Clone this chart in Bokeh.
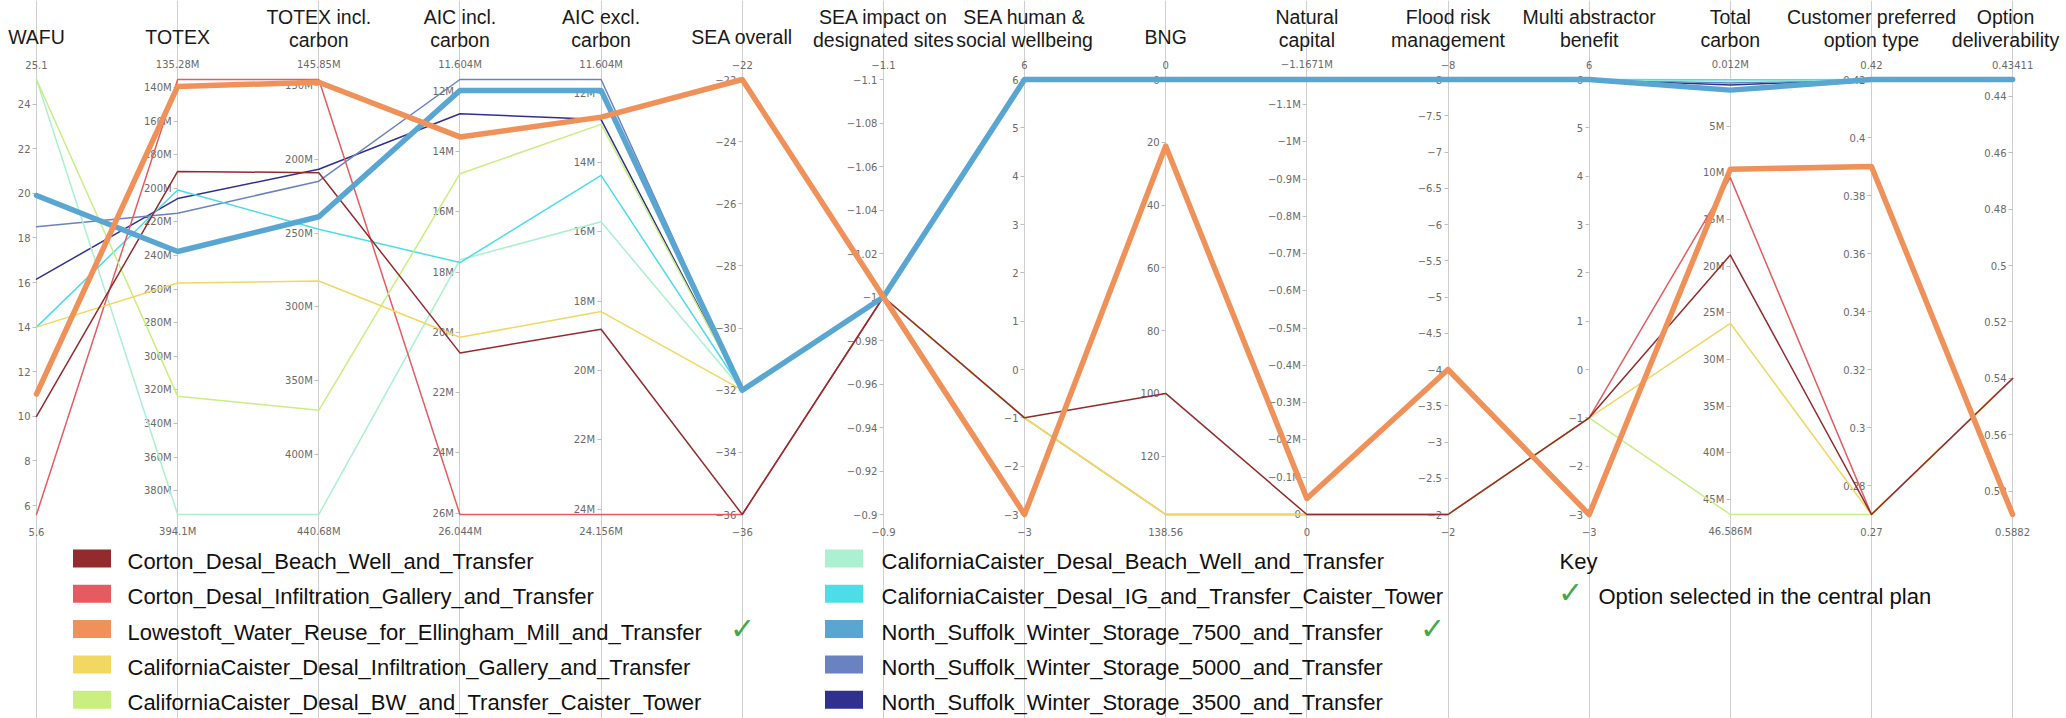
from bokeh.plotting import figure
from bokeh.models import Range1d, LinearAxis, FixedTicker
from bokeh.core.properties import value
from bokeh.embed import file_html
from bokeh.resources import INLINE

# ---------------------------------------------------------------- data
axis_titles = [
    ["WAFU"], ["TOTEX"], ["TOTEX incl.", "carbon"], ["AIC incl.", "carbon"],
    ["AIC excl.", "carbon"], ["SEA overall"], ["SEA impact on", "designated sites"],
    ["SEA human &", "social wellbeing"], ["BNG"], ["Natural", "capital"],
    ["Flood risk", "management"], ["Multi abstractor", "benefit"], ["Total", "carbon"],
    ["Customer preferred", "option type"], ["Option", "deliverability"],
]
# value at the top and at the bottom of every axis (M = millions)
axis_top = [25.1, 135.28, 145.85, 11.604, 11.604, -22, -1.1, 6, 0, -1.1671, -8, 6, 0.012, 0.42, 0.43411]
axis_bottom = [5.6, 394.1, 440.68, 26.044, 24.156, -36, -0.9, -3, 138.56, 0, -2, -3, 46.586, 0.27, 0.5882]
axis_unit = ["", "M", "M", "M", "M", "", "", "", "", "M", "", "", "M", "", ""]
axis_ticks = [
    [6, 8, 10, 12, 14, 16, 18, 20, 22, 24],
    [140, 160, 180, 200, 220, 240, 260, 280, 300, 320, 340, 360, 380],
    [150, 200, 250, 300, 350, 400],
    [12, 14, 16, 18, 20, 22, 24, 26],
    [12, 14, 16, 18, 20, 22, 24],
    [-36, -34, -32, -30, -28, -26, -24, -22],
    [-1.1, -1.08, -1.06, -1.04, -1.02, -1, -0.98, -0.96, -0.94, -0.92, -0.9],
    [-3, -2, -1, 0, 1, 2, 3, 4, 5, 6],
    [0, 20, 40, 60, 80, 100, 120],
    [-1.1, -1, -0.9, -0.8, -0.7, -0.6, -0.5, -0.4, -0.3, -0.2, -0.1, 0],
    [-8, -7.5, -7, -6.5, -6, -5.5, -5, -4.5, -4, -3.5, -3, -2.5, -2],
    [-3, -2, -1, 0, 1, 2, 3, 4, 5, 6],
    [5, 10, 15, 20, 25, 30, 35, 40, 45],
    [0.28, 0.3, 0.32, 0.34, 0.36, 0.38, 0.4, 0.42],
    [0.44, 0.46, 0.48, 0.5, 0.52, 0.54, 0.56, 0.58],
]

corton_bw = [10.0, 190.0, 209.0, 20.68, 18.81, -36, -1, -1, 100, 0, -2, -1, 18.81, 0.27, 0.54]
corton_ig = [5.6, 135.28, 145.85, 26.044, 24.156, -36, -1, -1, 138.56, 0, -2, -1, 10.52, 0.27, 0.54]
lowestoft = [11.0, 139.4, 147.7, 13.51, 12.69, -22, -1, -3, 21.2, -0.043, -4, -3, 9.63, 0.39, 0.5882]
cc_ig = [14.0, 256.4, 282.4, 20.16, 18.3, -32, -1, -1, 138.56, 0, -2, -1, 26.11, 0.27, 0.54]
cc_bw_tower = [25.1, 323.7, 370.1, 14.73, 12.9, -32, -1, -1, 138.56, 0, -2, -1, 46.586, 0.27, 0.54]
cc_beach_well = [25.1, 394.1, 440.68, 17.59, 15.71, -32, -1, 6, 0, -1.1671, -8, 6, 0.2, 0.42, 0.43411]
cc_ig_tower = [14.0, 201.0, 247.3, 17.68, 14.37, -32, -1, 6, 0, -1.1671, -8, 6, 0.05, 0.42, 0.43411]
ns_7500 = [19.9, 237.6, 238.9, 11.97, 11.92, -32, -1, 6, 0, -1.1671, -8, 6, 1.15, 0.42, 0.43411]
ns_5000 = [18.5, 214.8, 214.8, 11.604, 11.604, -32, -1, 6, 0, -1.1671, -8, 6, 0.4, 0.42, 0.43411]
ns_3500 = [16.15, 206.1, 206.7, 12.74, 12.76, -32, -1, 6, 0, -1.1671, -8, 6, 0.6, 0.42, 0.43411]

option_names = [
    "Corton_Desal_Beach_Well_and_Transfer",
    "Corton_Desal_Infiltration_Gallery_and_Transfer",
    "Lowestoft_Water_Reuse_for_Ellingham_Mill_and_Transfer",
    "CaliforniaCaister_Desal_Infiltration_Gallery_and_Transfer",
    "CaliforniaCaister_Desal_BW_and_Transfer_Caister_Tower",
    "CaliforniaCaister_Desal_Beach_Well_and_Transfer",
    "CaliforniaCaister_Desal_IG_and_Transfer_Caister_Tower",
    "North_Suffolk_Winter_Storage_7500_and_Transfer",
    "North_Suffolk_Winter_Storage_5000_and_Transfer",
    "North_Suffolk_Winter_Storage_3500_and_Transfer",
]
option_values = [corton_bw, corton_ig, lowestoft, cc_ig, cc_bw_tower,
                 cc_beach_well, cc_ig_tower, ns_7500, ns_5000, ns_3500]
option_colors = ["#922B2E", "#E55B5F", "#EF9159", "#F2D762", "#C9EF80",
                 "#AAF0D1", "#4CDDE8", "#59A6D2", "#6A82C1", "#30318F"]
selected = [False, False, True, False, False, False, False, True, False, False]

# ---------------------------------------------------------------- layout
W, H = 2066, 718
AX_X0, AX_DX = 36.0, 141.15
AX_TOP, AX_BOT = 79.0, 514.0

# main y range: 0 = bottom of the axes, 1 = top of the axes
Y_SPAN = H / (AX_BOT - AX_TOP)
Y_END = AX_BOT / (AX_BOT - AX_TOP)
Y_START = Y_END - Y_SPAN


def py(pix):
    """data y for a pixel row measured from the top of the page"""
    return Y_END - pix * Y_SPAN / H


def fmt(v, unit=""):
    if v == 0:
        return "0"
    s = ("%.5f" % v).rstrip("0").rstrip(".")
    return s.replace("-", "\u2212") + unit


n_axes = len(axis_titles)
ax_x = [AX_X0 + i * AX_DX for i in range(n_axes)]

p = figure(width=W, height=H, x_range=Range1d(0, W), y_range=Range1d(Y_START, Y_END),
           output_backend="svg", toolbar_location=None, min_border=0,
           x_axis_type=None, y_axis_type=None, outline_line_color=None,
           background_fill_color="white", border_fill_color="white")
p.grid.visible = False

# one scale per axis, lined up with the shared 0..1 band
for i in range(n_axes):
    top, bot = axis_top[i], axis_bottom[i]
    span = top - bot
    name = "ax%d" % i
    p.extra_y_ranges[name] = Range1d(start=bot + Y_START * span, end=bot + Y_END * span)
    ticks = axis_ticks[i]
    ax = LinearAxis(
        y_range_name=name, fixed_location=ax_x[i],
        ticker=FixedTicker(ticks=ticks),
        major_label_overrides={t: fmt(t, axis_unit[i]) for t in ticks},
        axis_line_color="#cfcfcf", axis_line_width=1,
        major_tick_line_color="#bdbdbd", major_tick_in=0, major_tick_out=4,
        minor_tick_line_color=None,
        major_label_text_font="DejaVu Sans", major_label_text_font_size="10px",
        major_label_text_color="#6a6a6a", major_label_standoff=2,
        level="underlay",
    )
    p.add_layout(ax, "left")

# lines: thin options first, selected options on top
draw_order = [9, 8, 5, 6, 1, 4, 3, 0, 7, 2]
for k in draw_order:
    vals = option_values[k]
    ys = [(v - axis_bottom[i]) / (axis_top[i] - axis_bottom[i]) for i, v in enumerate(vals)]
    p.line(ax_x, ys, line_color=option_colors[k],
           line_width=5.5 if selected[k] else 1.5,
           line_join="round", line_cap="round")

# axis titles
tx, ty, tt = [], [], []
for i, lines in enumerate(axis_titles):
    cx = min(ax_x[i], W - 61)
    rows = [36] if len(lines) == 1 else [16, 39]
    for line, r in zip(lines, rows):
        tx.append(cx); ty.append(py(r)); tt.append(line)
p.text(tx, ty, text=tt, text_font=value("Liberation Sans"), text_font_size=value("19.5px"),
       text_color="#1a1a1a", text_align="center", text_baseline="alphabetic")

# extreme values above and below every axis
p.text(ax_x, [py(64)] * n_axes, text=[fmt(v, u) for v, u in zip(axis_top, axis_unit)],
       text_font=value("DejaVu Sans"), text_font_size=value("10px"), text_color="#6a6a6a",
       text_align="center", text_baseline="middle")
p.text(ax_x, [py(531)] * n_axes, text=[fmt(v, u) for v, u in zip(axis_bottom, axis_unit)],
       text_font=value("DejaVu Sans"), text_font_size=value("10px"), text_color="#6a6a6a",
       text_align="center", text_baseline="middle")

# legend: two columns of five options
ROW0, ROW_DY = 558.0, 35.3
SW_W, SW_H = 38.0, 18.0
col_swatch = [91.5, 843.5]
col_text = [127.0, 881.0]
col_check = [742.0, 1432.0]
for k, name in enumerate(option_names):
    col, row = divmod(k, 5)
    cy = ROW0 + row * ROW_DY
    p.quad(left=[col_swatch[col] - SW_W / 2], right=[col_swatch[col] + SW_W / 2],
           top=[py(cy - SW_H / 2)], bottom=[py(cy + SW_H / 2)],
           fill_color=option_colors[k], line_color=None)
    p.text([col_text[col]], [py(cy + 3)], text=[name], text_font=value("Liberation Sans"),
           text_font_size=value("22px"), text_color="#111111",
           text_align="left", text_baseline="alphabetic")
    if selected[k]:
        p.text([col_check[col]], [py(cy - 1)], text=["\u2713"], text_font=value("DejaVu Sans"),
               text_font_size=value("30px"), text_color="#45A94B",
               text_align="center", text_baseline="middle")

# key
p.text([1559], [py(ROW0 + 3)], text=["Key"], text_font=value("Liberation Sans"),
       text_font_size=value("22px"), text_color="#111111",
       text_align="left", text_baseline="alphabetic")
p.text([1570], [py(ROW0 + ROW_DY - 1)], text=["\u2713"], text_font=value("DejaVu Sans"),
       text_font_size=value("30px"), text_color="#45A94B",
       text_align="center", text_baseline="middle")
p.text([1598], [py(ROW0 + ROW_DY + 3)], text=["Option selected in the central plan"],
       text_font=value("Liberation Sans"), text_font_size=value("22px"), text_color="#111111",
       text_align="left", text_baseline="alphabetic")

open("out.html", "w").write(file_html(p, INLINE))
